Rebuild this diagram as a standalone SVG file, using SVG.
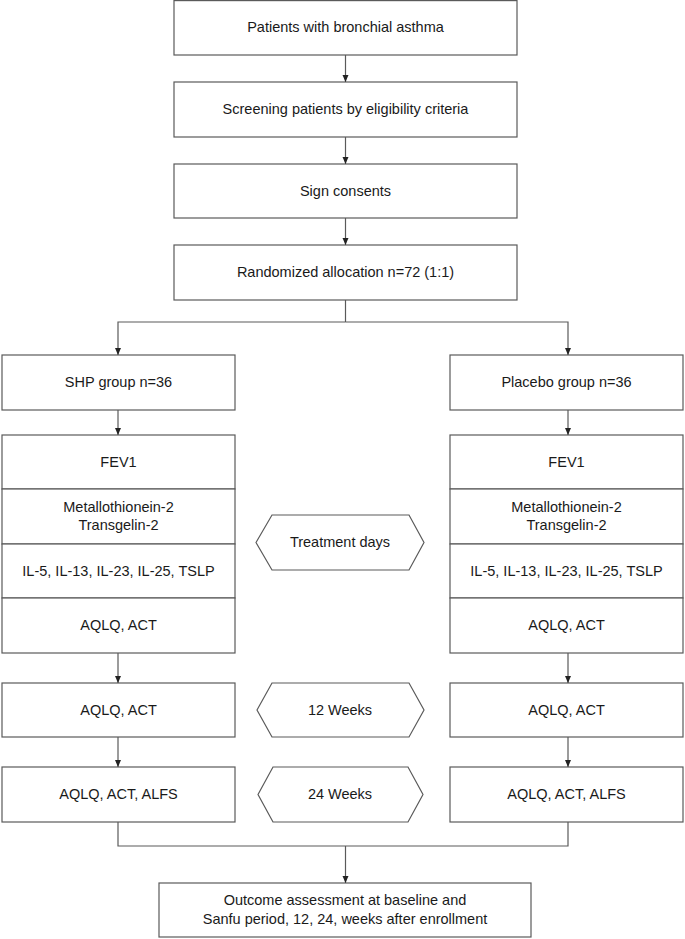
<svg xmlns="http://www.w3.org/2000/svg" width="685" height="939" viewBox="0 0 685 939">
<defs>
<marker id="arr" markerWidth="8" markerHeight="9" refX="7" refY="3.5" orient="auto" markerUnits="userSpaceOnUse">
<path d="M0,0.5 L7,3.5 L0,6.5 Z" fill="#222"/>
</marker>
</defs>
<style>
.b, polygon { fill: #ffffff; stroke: #5a5a5a; stroke-width: 1.2; }
line, polyline { fill: none; stroke: #5a5a5a; stroke-width: 1.2; }
text { font-family: "Liberation Sans", Arial, sans-serif; font-size: 14.5px; fill: #1a1a1a; text-anchor: middle; }
</style>
<rect x="0" y="0" width="685" height="939" fill="#ffffff"/>
<g id="n1"><rect class="b" x="174" y="0.6" width="343" height="54.4"/><text x="345.5" y="32">Patients with bronchial asthma</text></g>
<g id="n2"><rect class="b" x="174" y="82" width="343" height="55"/><text x="345.5" y="114">Screening patients by eligibility criteria</text></g>
<g id="n3"><rect class="b" x="174" y="164" width="343" height="54"/><text x="345.5" y="196">Sign consents</text></g>
<g id="n4"><rect class="b" x="174" y="245" width="343" height="55"/><text x="345.5" y="277">Randomized allocation n=72 (1:1)</text></g>
<g id="shp"><rect class="b" x="2" y="355" width="233" height="55"/><text x="118.5" y="387">SHP group n=36</text></g>
<g id="pla"><rect class="b" x="450" y="355" width="233" height="55"/><text x="566.5" y="387">Placebo group n=36</text></g>
<g id="shp-stack">
<rect class="b" x="2" y="435" width="233" height="54"/><text x="118.5" y="467">FEV1</text>
<rect class="b" x="2" y="489" width="233" height="55"/><text x="118.5" y="512">Metallothionein-2</text><text x="118.5" y="530">Transgelin-2</text>
<rect class="b" x="2" y="544" width="233" height="54"/><text x="118.5" y="576">IL-5, IL-13, IL-23, IL-25, TSLP</text>
<rect class="b" x="2" y="598" width="233" height="55"/><text x="118.5" y="630">AQLQ, ACT</text>
</g>
<g id="pla-stack">
<rect class="b" x="450" y="435" width="233" height="54"/><text x="566.5" y="467">FEV1</text>
<rect class="b" x="450" y="489" width="233" height="55"/><text x="566.5" y="512">Metallothionein-2</text><text x="566.5" y="530">Transgelin-2</text>
<rect class="b" x="450" y="544" width="233" height="54"/><text x="566.5" y="576">IL-5, IL-13, IL-23, IL-25, TSLP</text>
<rect class="b" x="450" y="598" width="233" height="55"/><text x="566.5" y="630">AQLQ, ACT</text>
</g>
<g id="shp12"><rect class="b" x="2" y="683" width="233" height="54"/><text x="118.5" y="715">AQLQ, ACT</text></g>
<g id="pla12"><rect class="b" x="450" y="683" width="233" height="54"/><text x="566.5" y="715">AQLQ, ACT</text></g>
<g id="shp24"><rect class="b" x="2" y="767" width="233" height="55"/><text x="118.5" y="799">AQLQ, ACT, ALFS</text></g>
<g id="pla24"><rect class="b" x="450" y="767" width="233" height="55"/><text x="566.5" y="799">AQLQ, ACT, ALFS</text></g>
<g id="hex1"><polygon points="256,542.5 272,515 409,515 424,542.5 409,570 272,570"/><text x="340" y="547">Treatment days</text></g>
<g id="hex2"><polygon points="257,710 272,683 409,683 424,710 409,737 272,737"/><text x="340" y="715">12 Weeks</text></g>
<g id="hex3"><polygon points="258,794.5 273,767 408,767 423,794.5 408,822 273,822"/><text x="340" y="799">24 Weeks</text></g>
<g id="out"><rect class="b" x="159" y="883" width="372" height="54"/><text x="345" y="905">Outcome assessment at baseline and</text><text x="345" y="924">Sanfu period, 12, 24, weeks after enrollment</text></g>
<g id="connectors">
<line x1="345.5" y1="55" x2="345.5" y2="82" marker-end="url(#arr)"/>
<line x1="345.5" y1="137" x2="345.5" y2="164" marker-end="url(#arr)"/>
<line x1="345.5" y1="218" x2="345.5" y2="245" marker-end="url(#arr)"/>
<line x1="345.5" y1="300" x2="345.5" y2="322"/>
<polyline points="345.5,322 118,322 118,355" marker-end="url(#arr)"/>
<polyline points="345.5,322 568,322 568,355" marker-end="url(#arr)"/>
<line x1="118" y1="410" x2="118" y2="435" marker-end="url(#arr)"/>
<line x1="568" y1="410" x2="568" y2="435" marker-end="url(#arr)"/>
<line x1="118" y1="653" x2="118" y2="683" marker-end="url(#arr)"/>
<line x1="568" y1="653" x2="568" y2="683" marker-end="url(#arr)"/>
<line x1="118" y1="737" x2="118" y2="767" marker-end="url(#arr)"/>
<line x1="568" y1="737" x2="568" y2="767" marker-end="url(#arr)"/>
<polyline points="118,822 118,846 568,846 568,822"/>
<line x1="345.5" y1="846" x2="345.5" y2="883" marker-end="url(#arr)"/>
</g>
</svg>
